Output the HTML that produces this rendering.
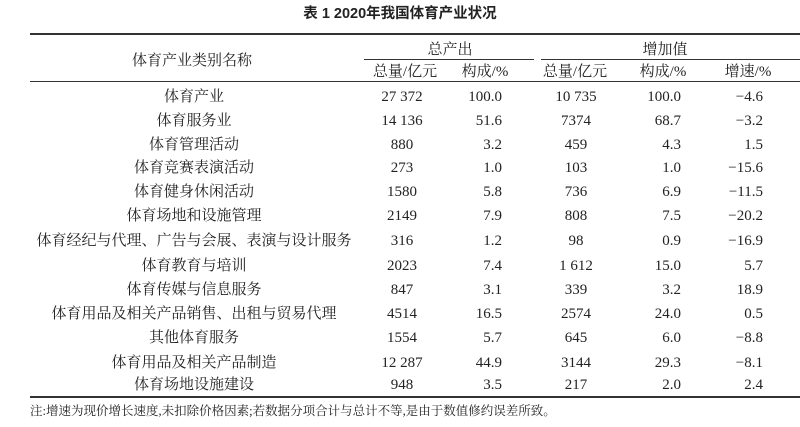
<!DOCTYPE html>
<html><head><meta charset="utf-8"><style>
body{margin:0;width:800px;height:427px;background:#fff;position:relative;overflow:hidden;font-family:"Liberation Serif","Noto Serif CJK SC",serif;color:#222;}
.t{position:absolute;font-size:15px;line-height:16px;white-space:nowrap}
.c{transform:translateX(-50%)}
.r{transform:translateX(-100%)}
.h{position:absolute;background:#333}
</style></head><body>
<div class="t c" style="left:400px;top:6px;font-family:'Liberation Sans','Noto Sans CJK SC',sans-serif;font-weight:bold;font-size:14.5px">表 1 2020年我国体育产业状况</div>
<div class="h" style="left:30px;top:33px;width:770px;height:1.5px"></div>
<div class="h" style="left:364px;top:59px;width:170px;height:1px"></div>
<div class="h" style="left:541px;top:59px;width:259px;height:1px"></div>
<div class="h" style="left:30px;top:81px;width:770px;height:1px"></div>
<div class="h" style="left:30px;top:396px;width:770px;height:1.5px"></div>
<div class="t c" style="left:192px;top:53px">体育产业类别名称</div>
<div class="t c" style="left:450px;top:42px">总产出</div>
<div class="t c" style="left:665px;top:42px">增加值</div>
<div class="t c" style="left:405px;top:64px">总量/亿元</div>
<div class="t c" style="left:485px;top:64px">构成/%</div>
<div class="t c" style="left:575px;top:64px">总量/亿元</div>
<div class="t c" style="left:663px;top:64px">构成/%</div>
<div class="t c" style="left:748px;top:64px">增速/%</div>
<div id="rows"></div>
<div class="t" style="left:30px;top:403px;font-size:12.5px">注:增速为现价增长速度,未扣除价格因素;若数据分项合计与总计不等,是由于数值修约误差所致。</div>
<script>
var d=[["体育产业","27 372","100.0","10 735","100.0","−4.6"],
["体育服务业","14 136","51.6","7374","68.7","−3.2"],
["体育管理活动","880","3.2","459","4.3","1.5"],
["体育竞赛表演活动","273","1.0","103","1.0","−15.6"],
["体育健身休闲活动","1580","5.8","736","6.9","−11.5"],
["体育场地和设施管理","2149","7.9","808","7.5","−20.2"],
["体育经纪与代理、广告与会展、表演与设计服务","316","1.2","98","0.9","−16.9"],
["体育教育与培训","2023","7.4","1 612","15.0","5.7"],
["体育传媒与信息服务","847","3.1","339","3.2","18.9"],
["体育用品及相关产品销售、出租与贸易代理","4514","16.5","2574","24.0","0.5"],
["其他体育服务","1554","5.7","645","6.0","−8.8"],
["体育用品及相关产品制造","12 287","44.9","3144","29.3","−8.1"],
["体育场地设施建设","948","3.5","217","2.0","2.4"]];
var h="";var ys=[89,113,137,160,184,208,233,258,282,306,330,355,377];
d.forEach(function(r,i){var y=ys[i];
h+='<div class="t c" style="left:194px;top:'+y+'px">'+r[0]+'</div>';
h+='<div class="t c" style="left:402px;top:'+y+'px">'+r[1]+'</div>';
h+='<div class="t r" style="left:502px;top:'+y+'px">'+r[2]+'</div>';
h+='<div class="t c" style="left:576px;top:'+y+'px">'+r[3]+'</div>';
h+='<div class="t r" style="left:681px;top:'+y+'px">'+r[4]+'</div>';
h+='<div class="t r" style="left:763px;top:'+y+'px">'+r[5]+'</div>';});
document.getElementById("rows").innerHTML=h;
</script>
</body></html>
